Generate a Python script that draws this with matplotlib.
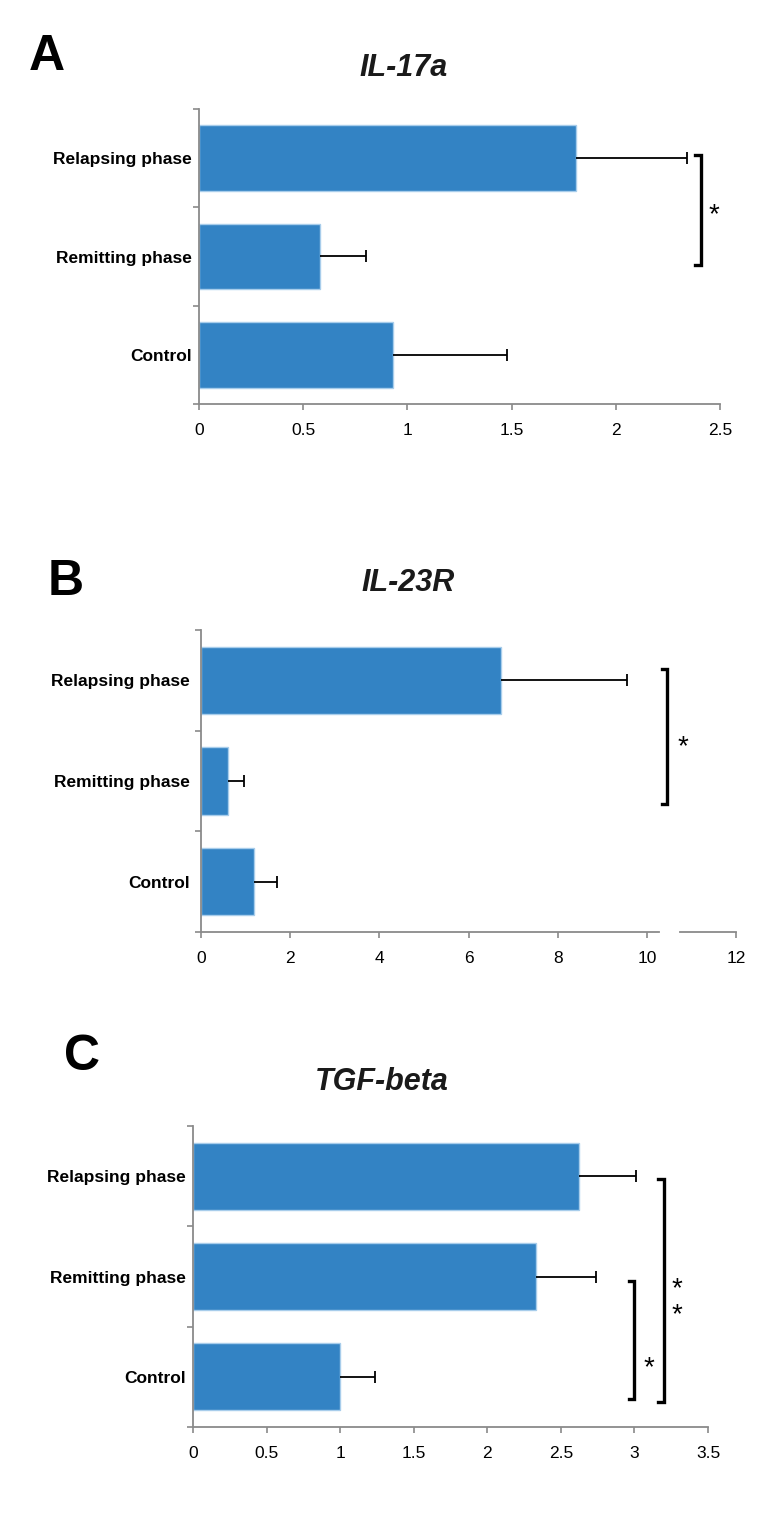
import numpy as np
import matplotlib
matplotlib.use('Agg')
import matplotlib.pyplot as plt

plt.rcParams['font.family'] = ['Liberation Sans', 'DejaVu Sans']

categories = ['Control', 'Remitting phase', 'Relapsing phase']

il17_mean = [0.93, 0.58, 1.81]
il17_err = [0.55, 0.22, 0.53]

il23_mean = [1.19, 0.61, 6.73]
il23_err = [0.52, 0.36, 2.83]

tgf_mean = [1.00, 2.33, 2.62]
tgf_err = [0.24, 0.41, 0.39]

il17_ticks = [0, 0.5, 1, 1.5, 2, 2.5]
il23_ticks = [0, 2, 4, 6, 8, 10, 12]
tgf_ticks = [0, 0.5, 1, 1.5, 2, 2.5, 3, 3.5]

bar_color = '#3383c4'
edge_color = '#a8cdeb'
spine_color = '#8a8a8a'


def fmt(v):
    return ('%g' % v)


def draw_panel(ax, means, errs, ticks, ypad):
    y = np.arange(len(categories))
    means = np.array(means)
    errs = np.array(errs)
    ax.barh(y, means, height=0.67, color=bar_color, edgecolor=edge_color, linewidth=1)
    # one-sided error bars, cap only at the outer end
    ax.hlines(y, means, means + errs, color='black', lw=1.3)
    ax.plot(means + errs, y, ls='none', marker='|', markersize=9,
            markeredgewidth=1.3, color='black')
    ax.set_xlim(0, ticks[-1])
    ax.set_ylim(-0.5, len(categories) - 0.5)
    for s in ['top', 'right']:
        ax.spines[s].set_visible(False)
    for s in ['left', 'bottom']:
        ax.spines[s].set_color(spine_color)
        ax.spines[s].set_linewidth(1.3)
    ax.set_xticks(ticks)
    ax.set_xticklabels([fmt(t) for t in ticks], fontsize=12.5)
    ax.tick_params(axis='x', direction='out', length=4.5, width=1.2,
                   color=spine_color, pad=9)
    ax.set_yticks(np.arange(-0.5, len(categories), 1.0))
    ax.set_yticklabels([])
    ax.tick_params(axis='y', which='major', direction='out', length=4.5,
                   width=1.2, color=spine_color)
    ax.set_yticks(y, minor=True)
    ax.set_yticklabels(categories, minor=True, fontsize=12.5, fontweight='bold')
    ax.tick_params(axis='y', which='minor', length=0, pad=ypad)


def bracket(ax, x, y0, y1, dx, label, lx, ly):
    ax.plot([x - dx, x, x, x - dx], [y0, y0, y1, y1], color='black',
            lw=2.4, clip_on=False, solid_joinstyle='miter')
    ax.text(lx, ly, label, ha='center', va='center', fontsize=20,
            linespacing=1.0, clip_on=False)


fig = plt.figure(figsize=(7.71, 15.4), dpi=100)

# panel A
axA = fig.add_axes([199 / 771, 1 - 404 / 1540, 521 / 771, 295 / 1540])
draw_panel(axA, il17_mean, il17_err, il17_ticks, 5)
bracket(axA, 2.41, 2.03, 0.91, 0.03, '*', 2.47, 1.42)

# panel B (broken x axis)
axB = fig.add_axes([201 / 771, 1 - 932 / 1540, 535 / 771, 302 / 1540])
draw_panel(axB, il23_mean, il23_err, il23_ticks, 8)
axB.spines['bottom'].set_visible(False)
tr = axB.get_xaxis_transform()
axB.plot([0, 10.28], [0, 0], transform=tr, color=spine_color, lw=1.3, clip_on=False)
axB.plot([10.74, 12], [0, 0], transform=tr, color=spine_color, lw=1.3, clip_on=False)
bracket(axB, 10.45, 2.11, 0.77, 0.12, '*', 10.8, 1.34)

# panel C
axC = fig.add_axes([193 / 771, 1 - 1427 / 1540, 515 / 771, 301 / 1540])
draw_panel(axC, tgf_mean, tgf_err, tgf_ticks, 5)
bracket(axC, 3.0, 0.96, -0.22, 0.04, '*', 3.10, 0.09)
bracket(axC, 3.2, 1.97, -0.25, 0.04, '*\n*', 3.29, 0.74)

# titles and panel letters
fig.text(404 / 771, 1 - 68 / 1540, 'IL-17a', ha='center', va='center',
         fontsize=22, fontweight='bold', fontstyle='italic', color='#1a1a1a')
fig.text(408 / 771, 1 - 583 / 1540, 'IL-23R', ha='center', va='center',
         fontsize=22, fontweight='bold', fontstyle='italic', color='#1a1a1a')
fig.text(382 / 771, 1 - 1082 / 1540, 'TGF-beta', ha='center', va='center',
         fontsize=22, fontweight='bold', fontstyle='italic', color='#1a1a1a')

fig.text(47 / 771, 1 - 57 / 1540, 'A', ha='center', va='center',
         fontsize=36, fontweight='bold')
fig.text(66 / 771, 1 - 582 / 1540, 'B', ha='center', va='center',
         fontsize=36, fontweight='bold')
fig.text(82 / 771, 1 - 1057 / 1540, 'C', ha='center', va='center',
         fontsize=36, fontweight='bold')

fig.savefig('out.png', dpi=100)
